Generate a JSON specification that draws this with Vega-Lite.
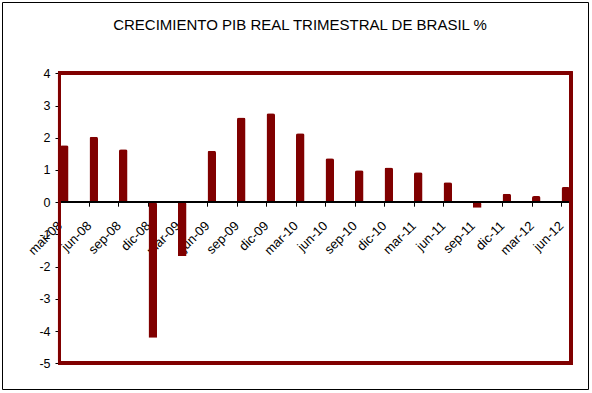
{
  "$schema": "https://vega.github.io/schema/vega-lite/v6.json",
  "width": 586,
  "height": 387,
  "autosize": {"type": "none"},
  "padding": {"left": 2, "top": 2, "right": 4, "bottom": 4},
  "background": "white",
  "config": {"view": {"stroke": "black", "strokeWidth": 1}, "font": "Liberation Sans"},
  "title": {
    "text": "CRECIMIENTO PIB REAL TRIMESTRAL DE BRASIL %",
    "fontSize": 15,
    "fontWeight": "normal",
    "font": "Liberation Sans",
    "anchor": "middle",
    "baseline": "alphabetic",
    "frame": "group",
    "offset": -42.7,
    "dx": 5,
    "color": "black"
  },
  "data": {
    "values": [
      {"q": "mar-08", "v": 1.77},
      {"q": "jun-08", "v": 2.03},
      {"q": "sep-08", "v": 1.64},
      {"q": "dic-08", "v": -4.21},
      {"q": "mar-09", "v": -1.67},
      {"q": "jun-09", "v": 1.6},
      {"q": "sep-09", "v": 2.63},
      {"q": "dic-09", "v": 2.76},
      {"q": "mar-10", "v": 2.14},
      {"q": "jun-10", "v": 1.36},
      {"q": "sep-10", "v": 0.99},
      {"q": "dic-10", "v": 1.08},
      {"q": "mar-11", "v": 0.93},
      {"q": "jun-11", "v": 0.62},
      {"q": "sep-11", "v": -0.17},
      {"q": "dic-11", "v": 0.26},
      {"q": "mar-12", "v": 0.19},
      {"q": "jun-12", "v": 0.47}
    ]
  },
  "layer": [
    {
      "mark": {"type": "bar", "size": 8.5, "xOffset": 4.25, "color": "#800000", "cornerRadiusEnd": 2},
      "encoding": {
        "x": {
          "field": "q",
          "type": "nominal",
          "sort": null,
          "scale": {"type": "band", "paddingInner": 0.136, "paddingOuter": 1, "align": 0.767},
          "axis": {
            "orient": "bottom",
            "offset": -186.8,
            "domain": false,
            "grid": false,
            "title": null,
            "tickSize": 4,
            "tickColor": "black",
            "labelAngle": -45,
            "labelAlign": "right",
            "labelBaseline": "middle",
            "labelPadding": 17,
            "labelFontSize": 13,
            "labelColor": "black",
            "labelOverlap": false,
            "labelBound": false,
            "labelFlush": false
          }
        },
        "y": {
          "field": "v",
          "type": "quantitative",
          "scale": {"domain": [-5.798, 6.213], "nice": false, "zero": false},
          "axis": {
            "orient": "left",
            "offset": -58,
            "values": [-5, -4, -3, -2, -1, 0, 1, 2, 3, 4],
            "labelExpr": "'' + datum.value",
            "domain": false,
            "grid": false,
            "title": null,
            "tickSize": 5,
            "tickColor": "black",
            "labelPadding": 5,
            "labelFontSize": 12.5,
            "labelColor": "black",
            "labelOverlap": false,
            "labelBound": false,
            "labelFlush": false
          }
        }
      }
    },
    {
      "mark": {"type": "rule", "color": "black", "strokeWidth": 1, "x2Offset": 9.5},
      "encoding": {
        "x": {"datum": "mar-08", "type": "nominal", "bandPosition": 0.5},
        "x2": {"datum": "jun-12", "bandPosition": 0.5},
        "y": {"datum": 0, "type": "quantitative"}
      }
    },
    {
      "mark": {"type": "rect", "fill": "white", "fillOpacity": 0, "stroke": "#800000", "strokeWidth": 3, "xOffset": -0.5, "x2Offset": 9.5},
      "encoding": {
        "x": {"datum": "mar-08", "type": "nominal", "bandPosition": 0.5},
        "x2": {"datum": "jun-12", "bandPosition": 0.5},
        "y": {"datum": 4, "type": "quantitative"},
        "y2": {"datum": -5}
      }
    }
  ]
}
